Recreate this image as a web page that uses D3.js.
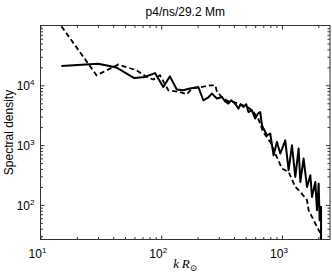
<!DOCTYPE html>
<html>
<head>
<meta charset="utf-8">
<script src="https://cdn.jsdelivr.net/npm/d3@7"></script>
<style>
  body { margin: 0; background: #fff; }
  svg text { font-family: "Liberation Sans", Arial, sans-serif; fill: #000; }
</style>
</head>
<body>
<div id="chart"></div>
<script>
// wavenumber kR (x) and spectral density (y)
const solidK = [14.9, 30.1, 42.7, 59.8, 73.4, 88.8, 104, 118, 134.5, 151.7, 173, 203, 223, 246, 263, 289, 318, 338, 360, 380, 397, 418, 436, 455, 480, 506, 528, 564, 600, 635, 661, 683, 703, 751, 800, 852, 909, 968, 1065, 1135, 1210, 1290, 1374, 1420, 1510, 1613, 1718, 1774, 1890, 1950, 2014, 2051, 2108, 2108];
const solidVal = [21000, 23000, 19800, 13200, 13800, 16000, 9370, 14100, 8480, 8250, 8810, 9370, 5620, 6300, 7270, 6000, 6380, 5400, 4950, 5620, 5260, 4630, 4080, 4820, 4340, 4820, 3580, 3820, 2780, 3400, 3560, 2150, 1890, 1460, 1560, 677, 1130, 723, 1200, 380, 994, 294, 875, 242, 596, 200, 313, 136, 242, 81.5, 228, 55.5, 92.7, 24];

const dashK = [14.9, 29.1, 44.1, 62.6, 75.8, 86, 97.7, 114.5, 143, 163, 179, 210, 254, 280, 290, 320, 358, 402, 451, 506, 567, 635, 700, 800, 880, 1000, 1135, 1290, 1420, 1613, 1663, 1829, 1950, 2080, 2120];
const dashVal = [97000, 14700, 22200, 17800, 13800, 12450, 14700, 8250, 7730, 7070, 8810, 9260, 10000, 10000, 7730, 6300, 5400, 5200, 4820, 4460, 3820, 2810, 1640, 1130, 723, 406, 356, 200, 165, 120, 81.5, 55.5, 42.9, 33.7, 24];

const xMajor = [10, 100, 1000];
const xExp = ["1", "2", "3"];
const yMajor = [100, 1000, 10000];
const yExp = ["2", "3", "4"];
const title = "p4/ns/29.2 Mm";

const width = 332, height = 275;
const margin = {top: 25.5, right: 2, bottom: 35.5, left: 40.5};

const svg = d3.select("#chart").append("svg")
  .attr("width", width)
  .attr("height", height);

const x = d3.scaleLog()
  .domain([10, 2500])
  .range([margin.left, width - margin.right]);

const y = d3.scaleLog()
  .domain([26.4, 100000])
  .range([height - margin.bottom, margin.top]);

// minor ticks of each decade
const minorTicks = (lo, hi) => {
  const out = [];
  for (let p = 1; p <= 1e5; p *= 10) {
    for (let m = 2; m <= 9; m++) {
      const v = m * p;
      if (v > lo && v < hi) out.push(v);
    }
  }
  return out;
};
const xMinor = minorTicks(10, 2500);
const yMinor = minorTicks(26.4, 100000);

const x0 = margin.left, x1 = width - margin.right;
const y0 = margin.top, y1 = height - margin.bottom;

function drawAxis(axis, tx, ty) {
  const g = svg.append("g")
    .attr("transform", `translate(${tx},${ty})`)
    .call(axis);
  g.selectAll(".domain").remove();
  g.selectAll("line").attr("stroke", "#333");
  g.selectAll("text").remove();
}

// inward ticks on all four sides
drawAxis(d3.axisBottom(x).tickValues(xMajor).tickSize(-4), 0, y1);
drawAxis(d3.axisBottom(x).tickValues(xMinor).tickSize(-2.5), 0, y1);
drawAxis(d3.axisTop(x).tickValues(xMajor).tickSize(-4), 0, y0);
drawAxis(d3.axisTop(x).tickValues(xMinor).tickSize(-2.5), 0, y0);
drawAxis(d3.axisLeft(y).tickValues(yMajor).tickSize(-4), x0, 0);
drawAxis(d3.axisLeft(y).tickValues(yMinor).tickSize(-2.5), x0, 0);
drawAxis(d3.axisRight(y).tickValues(yMajor).tickSize(-4), x1, 0);
drawAxis(d3.axisRight(y).tickValues(yMinor).tickSize(-2.5), x1, 0);

svg.append("rect")
  .attr("x", x0).attr("y", y0)
  .attr("width", x1 - x0).attr("height", y1 - y0)
  .attr("fill", "none")
  .attr("stroke", "#333")
  .attr("stroke-width", 1);

// tick labels with exponents
xMajor.forEach((v, i) => {
  const t = svg.append("text")
    .attr("x", x(v) - 3)
    .attr("y", y1 + 18)
    .attr("text-anchor", "middle")
    .attr("font-size", 12);
  t.append("tspan").text("10");
  t.append("tspan").attr("dy", -5).attr("font-size", 8).text(xExp[i]);
});

yMajor.forEach((v, i) => {
  const t = svg.append("text")
    .attr("x", x0 - 6)
    .attr("y", y(v) + 5)
    .attr("text-anchor", "end")
    .attr("font-size", 12);
  t.append("tspan").text("10");
  t.append("tspan").attr("dy", -5).attr("font-size", 8).text(yExp[i]);
});

svg.append("text")
  .attr("x", (x0 + x1) / 2)
  .attr("y", 16)
  .attr("text-anchor", "middle")
  .attr("font-size", 12)
  .text(title);

svg.append("text")
  .attr("transform", `translate(13,${(y0 + y1) / 2}) rotate(-90)`)
  .attr("text-anchor", "middle")
  .attr("font-size", 12)
  .text("Spectral density");

const xl = svg.append("text")
  .attr("x", (x0 + x1) / 2)
  .attr("y", 268)
  .attr("text-anchor", "middle")
  .attr("font-size", 13)
  .style("font-family", "'Liberation Serif', 'DejaVu Serif', serif")
  .style("font-style", "italic");
xl.append("tspan").text("k\u2009R");
xl.append("tspan").attr("dy", 3).attr("font-size", 9).style("font-style", "normal").text("\u2299");

// data lines
svg.append("clipPath").attr("id", "clip")
  .append("rect")
  .attr("x", x0).attr("y", y0)
  .attr("width", x1 - x0).attr("height", y1 - y0);

const line = d3.line()
  .x(d => x(d[0]))
  .y(d => y(d[1]));

const plot = svg.append("g").attr("clip-path", "url(#clip)");

plot.append("path")
  .datum(dashK.map((k, i) => [k, dashVal[i]]))
  .attr("fill", "none")
  .attr("stroke", "#000")
  .attr("stroke-width", 1.8)
  .attr("stroke-dasharray", "5,3")
  .attr("d", line);

plot.append("path")
  .datum(solidK.map((k, i) => [k, solidVal[i]]))
  .attr("fill", "none")
  .attr("stroke", "#000")
  .attr("stroke-width", 2)
  .attr("stroke-linejoin", "round")
  .attr("d", line);
</script>
</body>
</html>
